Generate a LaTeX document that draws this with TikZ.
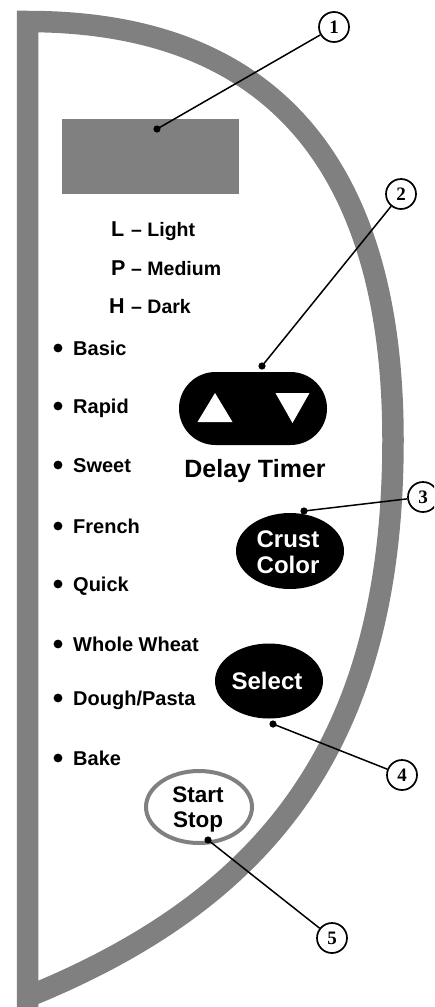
\documentclass[tikz,border=0pt]{standalone}
\usepackage{fontspec}
\newfontfamily\lsans{Liberation Sans}
\newfontfamily\nserif{Liberation Serif}
\usetikzlibrary{shapes.geometric}
\definecolor{framegray}{RGB}{128,128,128}
\tikzset{
  framebar/.style={draw=framegray, line width=21.5pt},
  callnum/.style={circle, draw=black, line width=1.7pt, fill=white, minimum size=30pt, inner sep=0pt, font=\nserif\bfseries\fontsize{19}{19}\selectfont},
  leader/.style={draw=black, line width=1.5pt},
  leaderdot/.style={fill=black},
  item/.style={anchor=base west, inner sep=0pt, font=\lsans\bfseries\fontsize{20}{20}\selectfont},
  bullet/.style={fill=black},
  letter/.style={anchor=base west, inner sep=0pt, font=\lsans\bfseries\fontsize{21.5}{21.5}\selectfont},
  word/.style={anchor=base west, inner sep=0pt, font=\lsans\bfseries\fontsize{19.5}{19.5}\selectfont},
  display/.style={rectangle, fill=framegray, minimum width=177pt, minimum height=75pt, inner sep=0pt},
  pill/.style={rectangle, fill=black, rounded corners=36.5pt, minimum width=148pt, minimum height=73pt, inner sep=0pt},
  blackbtn/.style={ellipse, fill=black, inner sep=0pt},
  btntext/.style={anchor=base, inner sep=0pt, text=white, font=\lsans\bfseries\fontsize{24}{24}\selectfont},
  startbtn/.style={ellipse, draw=framegray, line width=4pt, fill=white, inner sep=0pt, minimum width=106pt, minimum height=72pt},
  starttext/.style={anchor=base, inner sep=0pt, text=black, font=\lsans\bfseries\fontsize{22.5}{22.5}\selectfont},
  delaytext/.style={anchor=base, inner sep=0pt, font=\lsans\bfseries\fontsize{25}{25}\selectfont},
}
\begin{document}
\begin{tikzpicture}[x=1pt,y=-1pt]
\useasboundingbox (0,0) rectangle (434,1007);
\clip (0,0) rectangle (434,1007);
% frame
\draw[framebar] (27.5,1030) -- (27.5,21.5) .. controls (280,21.5) and (393,175) .. (393,440) .. controls (393,740) and (270,900) .. (22,999);
% display
\node[display] (disp) at (150.5,156.5) {};
% legend
\node[letter] (lL) at (111,236) {L};
\node[word] (wL) at (131,236) {– Light};
\node[letter] (lP) at (111,275) {P};
\node[word] (wP) at (131,275) {– Medium};
\node[letter] (lH) at (109,313) {H};
\node[word] (wH) at (131,313) {– Dark};
% program list
\foreach \name/\yy/\txt in {i1/355/Basic, i2/413/Rapid, i3/472/Sweet, i4/533/French, i5/591/Quick, i6/651/Whole Wheat, i7/705/{Dough/Pasta}, i8/765/Bake}{
  \fill[bullet] (58,\yy-7) circle (4.4pt);
  \node[item] (\name) at (73,\yy) {\txt};
}
% delay timer
\node[pill] (pill) at (253,408.5) {};
\fill[white] (215,393) -- (232.5,422) -- (197.5,422) -- cycle;
\fill[white] (275.5,393) -- (309.5,393) -- (292.5,423) -- cycle;
\node[delaytext] (delay) at (255,477) {Delay Timer};
% crust color
\node[blackbtn, minimum width=108pt, minimum height=76pt] (crust) at (290,551) {};
\node[btntext] (crust1) at (288,547) {Crust};
\node[btntext] (crust2) at (288,573) {Color};
% select
\node[blackbtn, minimum width=108pt, minimum height=75pt] (sel) at (269,681) {};
\node[btntext] (selt) at (267,689) {Select};
% start stop
\node[startbtn] (ss) at (199,807) {};
\node[starttext] (ss1) at (198,802) {Start};
\node[starttext] (ss2) at (198,827) {Stop};
% callouts
\coordinate (d1) at (157,129);
\coordinate (d2) at (262,366);
\coordinate (d3) at (304,511);
\coordinate (d4) at (273,724);
\coordinate (d5) at (208,840);
\node[callnum] (c1) at (334,27) {1};
\node[callnum] (c2) at (401,194) {2};
\node[callnum] (c3) at (423,497) {3};
\node[callnum] (c4) at (402,775) {4};
\node[callnum] (c5) at (332,938) {5};
\foreach \k in {1,...,5}{
  \draw[leader] (d\k) -- (c\k);
  \fill[leaderdot] (d\k) circle (3.6pt);
}
\end{tikzpicture}
\end{document}
